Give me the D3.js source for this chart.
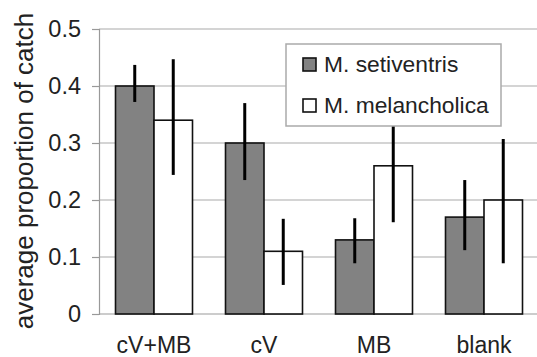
<!DOCTYPE html>
<html>
<head>
<meta charset="utf-8">
<script src="https://cdn.jsdelivr.net/npm/d3@7"></script>
<style>
  body { margin: 0; background: #fff; }
  svg text { font-family: "Liberation Sans", Arial, sans-serif; fill: #222; }
</style>
</head>
<body>
<div id="chart"></div>
<script>
const categories = ["cV+MB", "cV", "MB", "blank"];
const seriesNames = ["M. setiventris", "M. melancholica"];
const setiventris = [0.40, 0.30, 0.13, 0.17];
const setiventrisLow = [0.372, 0.235, 0.089, 0.112];
const setiventrisHigh = [0.437, 0.370, 0.168, 0.235];
const melancholica = [0.34, 0.11, 0.26, 0.20];
const melancholicaLow = [0.244, 0.051, 0.161, 0.089];
const melancholicaHigh = [0.447, 0.167, 0.36, 0.307];
const yTicks = [0, 0.1, 0.2, 0.3, 0.4, 0.5];

const width = 537, height = 357;
const margin = {top: 29, right: -2, bottom: 43, left: 99};
const fills = ["#828282", "#ffffff"];

const rows = categories.map((c, i) => ({
    cat: c,
    vals: [
        {s: 0, v: setiventris[i], lo: setiventrisLow[i], hi: setiventrisHigh[i]},
        {s: 1, v: melancholica[i], lo: melancholicaLow[i], hi: melancholicaHigh[i]}
    ]
}));

const svg = d3.select("#chart").append("svg")
    .attr("width", width)
    .attr("height", height);

let x = d3.scaleBand()
    .domain(categories)
    .range([margin.left, width - margin.right])
    .paddingInner(0.3)
    .paddingOuter(0.15);

let xSub = d3.scaleBand()
    .domain([0, 1])
    .range([0, x.bandwidth()]);

let y = d3.scaleLinear()
    .domain([0, 0.5])
    .range([height - margin.bottom, margin.top]);

// gridlines
svg.append("g")
    .selectAll("line")
    .data(yTicks.slice(1))
    .enter().append("line")
    .attr("x1", margin.left)
    .attr("x2", width)
    .attr("y1", d => y(d))
    .attr("y2", d => y(d))
    .attr("stroke", "#aaa")
    .attr("stroke-width", 1.2);

// y axis
let yAxis = svg.append("g")
    .attr("transform", "translate(" + margin.left + ",0)")
    .call(d3.axisLeft(y).tickValues(yTicks).tickSize(7).tickPadding(11)
        .tickFormat(d => d === 0 ? "0" : d3.format(".1f")(d)));
yAxis.select(".domain").attr("stroke", "#999").attr("stroke-width", 1.2);
yAxis.selectAll(".tick line").attr("stroke", "#999").attr("stroke-width", 1.2);
yAxis.selectAll(".tick text")
    .style("font-size", "23.5px")
    .attr("fill", "#222");

// x axis baseline
svg.append("line")
    .attr("x1", margin.left)
    .attr("x2", width)
    .attr("y1", y(0))
    .attr("y2", y(0))
    .attr("stroke", "#999")
    .attr("stroke-width", 1.2);

svg.append("g")
    .selectAll("text")
    .data(categories)
    .enter().append("text")
    .attr("x", d => x(d) + x.bandwidth() / 2)
    .attr("y", height - 4)
    .attr("text-anchor", "middle")
    .style("font-size", "23px")
    .text(d => d);

// bars
let group = svg.selectAll(".grp")
    .data(rows)
    .enter().append("g")
    .attr("class", "grp")
    .attr("transform", d => "translate(" + x(d.cat) + ",0)");

group.selectAll("rect")
    .data(d => d.vals)
    .enter().append("rect")
    .attr("x", d => xSub(d.s))
    .attr("y", d => y(d.v))
    .attr("width", xSub.bandwidth())
    .attr("height", d => y(0) - y(d.v))
    .attr("fill", d => fills[d.s])
    .attr("stroke", "#111")
    .attr("stroke-width", 1.6);

group.selectAll(".err")
    .data(d => d.vals)
    .enter().append("line")
    .attr("class", "err")
    .attr("x1", d => xSub(d.s) + xSub.bandwidth() / 2)
    .attr("x2", d => xSub(d.s) + xSub.bandwidth() / 2)
    .attr("y1", d => y(d.lo))
    .attr("y2", d => y(d.hi))
    .attr("stroke", "#000")
    .attr("stroke-width", 3);

// y title
svg.append("text")
    .attr("transform", "translate(33," + (y(0.25) - 0.5) + ") rotate(-90)")
    .attr("text-anchor", "middle")
    .style("font-size", "26px")
    .text("average proportion of catch");

// legend
let legend = svg.append("g").attr("transform", "translate(286,44)");
legend.append("rect")
    .attr("width", 215)
    .attr("height", 82)
    .attr("fill", "#fff")
    .attr("stroke", "#aaa")
    .attr("stroke-width", 1.5);

let item = legend.selectAll(".item")
    .data(seriesNames)
    .enter().append("g")
    .attr("class", "item")
    .attr("transform", (d, i) => "translate(17," + (14 + i * 41) + ")");

item.append("rect")
    .attr("width", 13)
    .attr("height", 13)
    .attr("fill", (d, i) => fills[i])
    .attr("stroke", "#111")
    .attr("stroke-width", 1.6);

item.append("text")
    .attr("x", 21)
    .attr("y", 13.5)
    .style("font-size", "22.8px")
    .text(d => d);
</script>
</body>
</html>
